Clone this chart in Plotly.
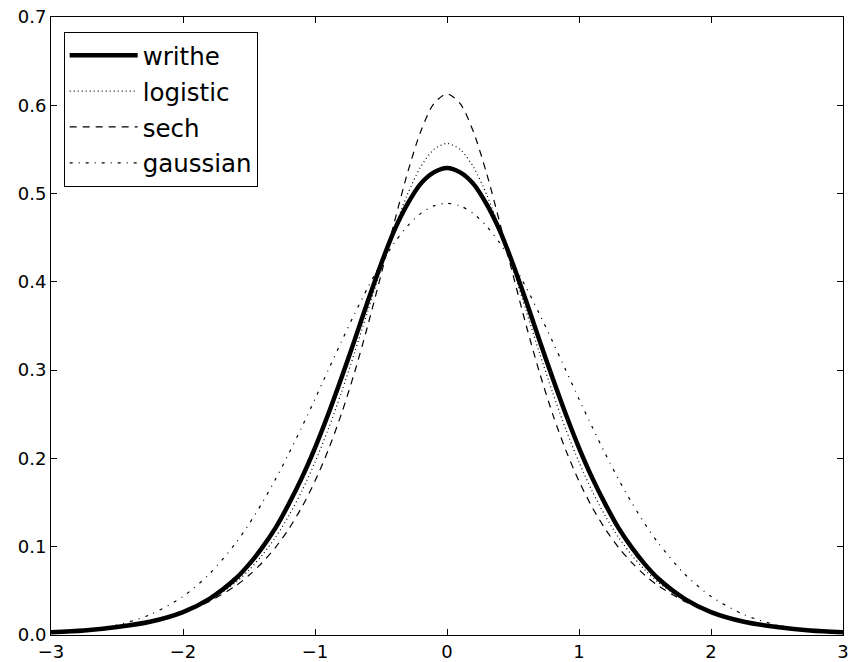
import plotly.graph_objects as go

# right half of each curve (symmetric curves: left half mirrors these values)
x_half = [0.0, 0.1, 0.2, 0.3, 0.4, 0.5, 0.6, 0.7, 0.8, 0.9, 1.0, 1.1, 1.2, 1.3, 1.4, 1.5, 1.6,
          1.8, 2.0, 2.25, 2.5, 2.75, 3.0]
writhe_half = [0.529, 0.524, 0.511, 0.488, 0.458, 0.420, 0.378, 0.334, 0.291, 0.250, 0.212, 0.178,
               0.148, 0.121, 0.099, 0.080, 0.064, 0.041, 0.026, 0.015, 0.009, 0.005, 0.003]
logistic_half = [0.5568, 0.5499, 0.5301, 0.4990, 0.4594, 0.4145, 0.3670, 0.3198, 0.2747, 0.2330, 0.1957,
                 0.1629, 0.1346, 0.1105, 0.0904, 0.0736, 0.0597, 0.0390, 0.0256, 0.0146, 0.0085, 0.0049, 0.0028]
sech_half = [0.613, 0.6018, 0.5700, 0.5229, 0.4669, 0.4079, 0.3506, 0.2976, 0.2504, 0.2094, 0.1743,
             0.1447, 0.1198, 0.0991, 0.0819, 0.0676, 0.0558, 0.0380, 0.0258, 0.0160, 0.0098, 0.0061, 0.0038]
gaussian_half = [0.489, 0.4861, 0.4773, 0.4631, 0.4440, 0.4205, 0.3935, 0.3638, 0.3323, 0.2999, 0.2673,
                 0.2355, 0.2050, 0.1763, 0.1497, 0.1257, 0.1042, 0.0691, 0.0437, 0.0230, 0.0112, 0.0051, 0.0021]

x_ticks = [-3, -2, -1, 0, 1, 2, 3]
y_ticks = [0.0, 0.1, 0.2, 0.3, 0.4, 0.5, 0.6, 0.7]


def full(xs, ys):
    xx = [-v for v in reversed(xs[1:])] + list(xs)
    yy = list(reversed(ys[1:])) + list(ys)
    return xx, yy


series = [
    ("writhe", writhe_half, dict(color="black", width=4.5, dash="solid")),
    ("logistic", logistic_half, dict(color="black", width=1.2, dash="1px,3px")),
    ("sech", sech_half, dict(color="black", width=1.2, dash="7px,6px")),
    ("gaussian", gaussian_half, dict(color="black", width=1.2, dash="3px,6px,1px,6px")),
]

fig = go.Figure()
for i, (name, ys, line) in enumerate(series):
    xx, yy = full(x_half, ys)
    fig.add_trace(go.Scatter(x=xx, y=yy, mode="lines", name=name,
                             line=dict(shape="spline", smoothing=0.8, **line),
                             legendgroup=str(i)))

axis_common = dict(
    showgrid=False, zeroline=False, showline=True, linecolor="black", linewidth=1,
    mirror="allticks", ticks="inside", ticklen=6, tickcolor="black", tickwidth=1,
    tickfont=dict(family="DejaVu Sans", size=18, color="black"), automargin=False,
    ticklabeloverflow="allow",
)

fig.update_layout(
    width=851, height=662,
    margin=dict(l=51, r=8, t=17, b=27),
    paper_bgcolor="white", plot_bgcolor="white",
    xaxis=dict(range=[-3, 3], tickvals=x_ticks,
               ticktext=[("\u2212" + str(-v)) if v < 0 else str(v) for v in x_ticks], **axis_common),
    yaxis=dict(range=[0, 0.7], tickvals=y_ticks, ticktext=[f"{v:.1f}" for v in y_ticks], **axis_common),
    legend=dict(x=0.016, y=0.976, xanchor="left", yanchor="top",
                bordercolor="black", borderwidth=1, bgcolor="white",
                font=dict(family="DejaVu Sans", size=24.5, color="black"),
                itemwidth=68, tracegroupgap=1),
    showlegend=True,
)

# remove the page's default body margin so the figure fills the window exactly
fig.write_html("out.html", config={"displayModeBar": False},
               post_script="document.body.style.margin='0';")
